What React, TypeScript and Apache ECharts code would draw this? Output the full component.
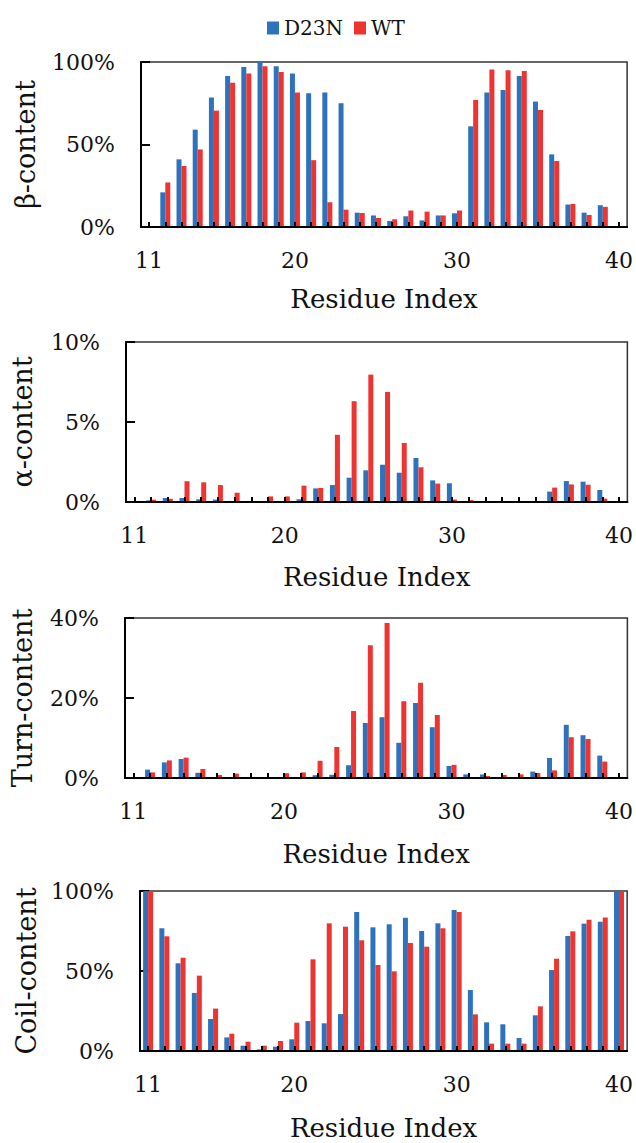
import React, { useEffect, useRef } from "react";
import * as echarts from "echarts";

const residues = ["11","12","13","14","15","16","17","18","19","20","21","22","23","24","25","26","27","28","29","30","31","32","33","34","35","36","37","38","39","40"];
const xTickLabels = ["11", "20", "30", "40"];

const betaD23N = [0,21,41,59,78.5,91.5,97,100,97.5,93,81,81.5,75,8.7,7,3.7,6.5,4,7,8.3,61,81.5,83,91.5,76,44,13.6,8.7,13.2,0];
const betaWT = [0,27,37,47,70.5,87.5,93,97.5,94,81.5,40.5,15,10.5,8.5,5.5,4.7,10,9.3,7,10,77,95.5,95,94.5,71,40,14,7.3,12.2,0];

const alphaD23N = [0,0.1,0.25,0.25,0.17,0.15,0,0,0,0.03,0.17,0.85,1.06,1.52,1.98,2.33,1.83,2.75,1.35,1.17,0,0,0,0,0.06,0.65,1.31,1.27,0.75,0];
const alphaWT = [0,0.15,0.2,1.3,1.23,1.06,0.58,0,0.35,0.35,1.02,0.88,4.2,6.3,7.96,6.88,3.69,2.17,1.15,0.15,0.12,0.05,0.04,0,0,0.9,1.1,1.08,0.21,0];

const turnD23N = [0,2.1,3.9,4.75,1.3,0,0,0,0,0,0.2,0.7,0.8,3.2,13.75,15.2,8.8,18.75,12.7,3.0,0.9,0.9,0.25,0.25,1.6,5.0,13.3,10.7,5.6,0];
const turnWT = [0,1.4,4.4,5.1,2.25,0.75,1.1,0,0,1.2,1.4,4.3,7.75,16.75,33.2,38.75,19.2,23.8,15.75,3.3,0.25,0.5,0.75,0.9,1.25,1.9,10.2,9.75,4.1,0];

const coilD23N = [100,76.7,54.8,36.3,20,8.5,3.3,1,2.7,7.3,18.75,17.3,23.1,86.9,77.3,79.2,83.3,75,79.8,88.1,38.1,17.9,16.7,8.1,22.3,50.6,71.9,79.6,80.8,100];
const coilWT = [100,71.7,58.3,47.1,26.5,10.8,5.8,3.3,6.25,17.7,57.3,79.8,77.7,69.2,53.75,49.8,67.5,65.2,76.7,86.9,22.9,4.6,4.6,4.6,27.9,57.7,74.8,82.1,83.5,100];

const panelNames = ["β-content", "α-content", "Turn-content", "Coil-content"];
const yMax = [100, 10, 40, 100];
const yInterval = [50, 5, 20, 50];
const seriesNames = ["D23N", "WT"];

const BLUE = "#2E72BC";
const RED = "#EE3430";
const FONT = "DejaVu Serif";

export default function App() {
  const ref = useRef<HTMLDivElement>(null);
  useEffect(() => {
    document.body.style.margin = "0";
    if (!ref.current) return;
    const chart = echarts.init(ref.current, null, { renderer: "svg" });

    const grids = [
      { left: 141, top: 62, width: 487, height: 165 },
      { left: 126, top: 342, width: 502, height: 160 },
      { left: 125, top: 618, width: 503, height: 160 },
      { left: 140, top: 891, width: 488, height: 160 },
    ];
    const yNameGap = [102, 90, 89, 99];
    const xNameGap = [59, 62, 63, 64];
    const data = [
      [betaD23N, betaWT],
      [alphaD23N, alphaWT],
      [turnD23N, turnWT],
      [coilD23N, coilWT],
    ];

    const option: any = {
      animation: false,
      backgroundColor: "#fff",
      textStyle: { fontFamily: FONT },
      legend: {
        data: seriesNames,
        left: 262,
        top: 13,
        icon: "rect",
        itemWidth: 12,
        itemHeight: 13,
        itemGap: 11,
        textStyle: { fontFamily: FONT, fontSize: 20, color: "#111" },
      },
      grid: grids.map((g) => ({ ...g, show: true, borderColor: "#333", borderWidth: 1.5, backgroundColor: "transparent" })),
      xAxis: grids.map((_, i) => ({
        type: "category",
        gridIndex: i,
        data: residues,
        z: 5,
        boundaryGap: true,
        name: "Residue Index",
        nameLocation: "middle",
        nameGap: xNameGap[i],
        nameTextStyle: { fontFamily: FONT, fontSize: 26, color: "#111" },
        axisLine: { show: true, lineStyle: { color: "#000", width: 2 } },
        axisTick: { show: true, inside: true, alignWithLabel: true, interval: 0, length: 5, lineStyle: { color: "#000", width: 2 } },
        axisLabel: {
          interval: (_idx: number, v: string) => xTickLabels.includes(v),
          margin: 22,
          fontFamily: FONT,
          fontSize: 22,
          color: "#111",
        },
        splitLine: { show: false },
      })),
      yAxis: grids.map((_, i) => ({
        type: "value",
        gridIndex: i,
        min: 0,
        max: yMax[i],
        interval: yInterval[i],
        name: panelNames[i],
        nameLocation: "middle",
        nameGap: yNameGap[i],
        nameTextStyle: { fontFamily: FONT, fontSize: 27, color: "#111" },
        axisLine: { show: true, lineStyle: { color: "#000", width: 2 } },
        axisTick: { show: true, inside: true, length: 9, lineStyle: { color: "#000", width: 2 } },
        axisLabel: { formatter: (v: number) => v + "%", margin: 26, fontFamily: FONT, fontSize: 22, color: "#111" },
        splitLine: { show: false },
      })),
      series: data.flatMap((pair, i) =>
        pair.map((vals, j) => ({
          type: "bar",
          name: seriesNames[j],
          xAxisIndex: i,
          yAxisIndex: i,
          data: vals,
          barWidth: 5,
          barGap: "0%",
          itemStyle: { color: j === 0 ? BLUE : RED },
        }))
      ),
    };
    chart.setOption(option);
    return () => chart.dispose();
  }, []);
  return <div ref={ref} style={{ width: 636, height: 1143 }} />;
}
